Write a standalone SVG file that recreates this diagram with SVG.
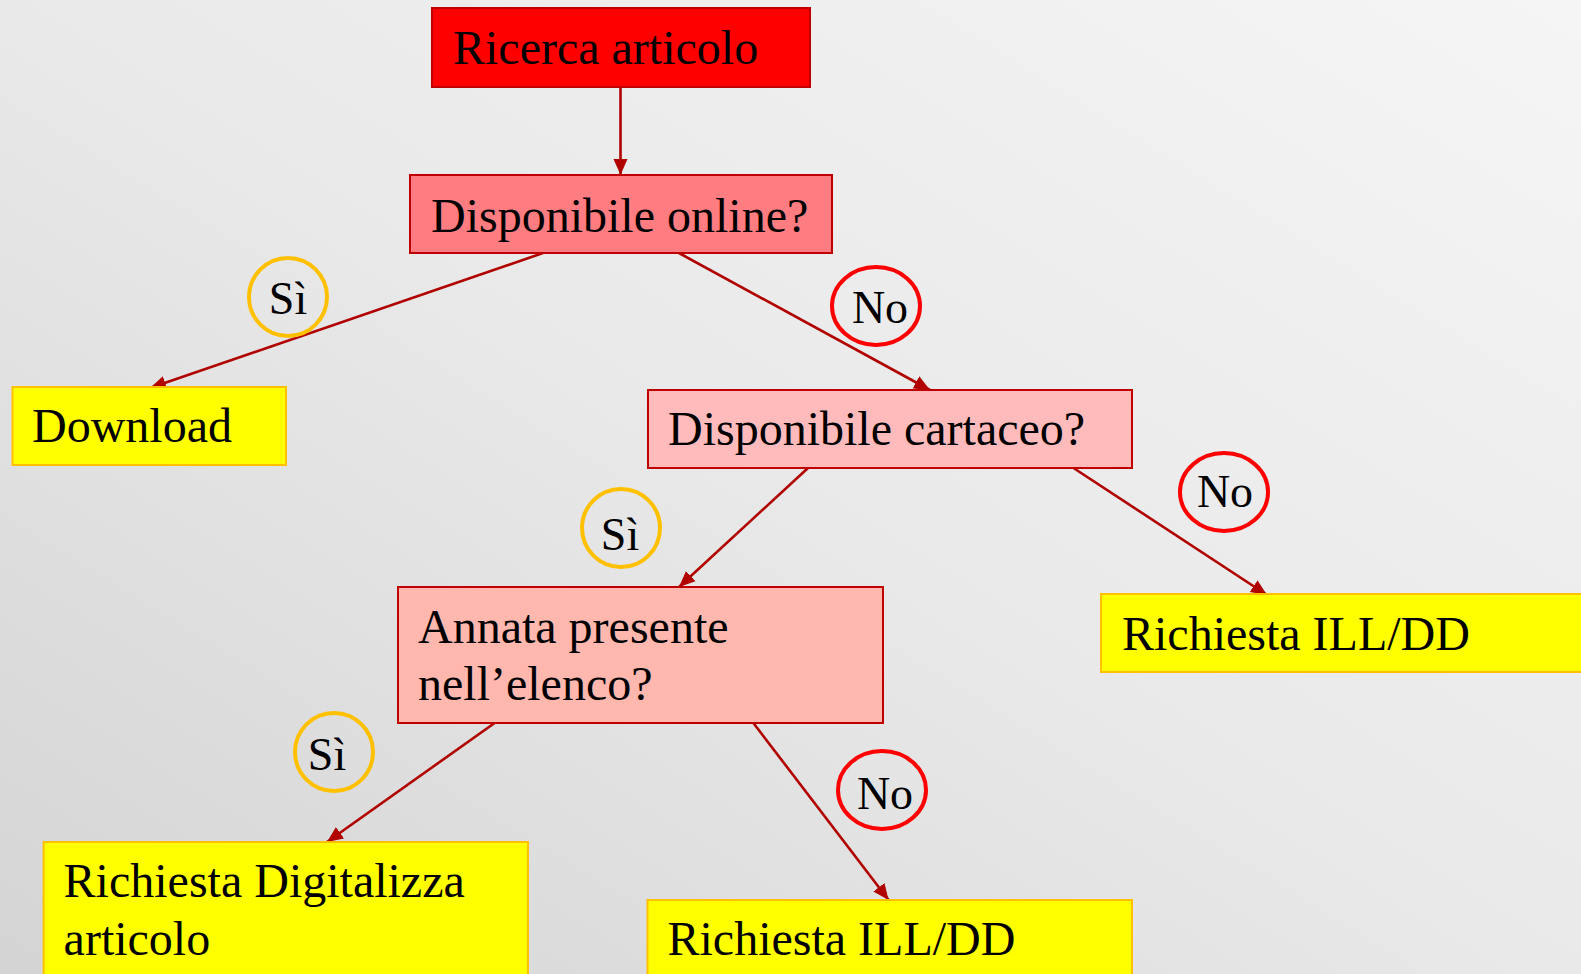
<svg xmlns="http://www.w3.org/2000/svg" width="1581" height="974" viewBox="0 0 1581 974">
<defs>
<linearGradient id="bg" x1="1" y1="0" x2="0" y2="1">
<stop offset="0" stop-color="#f5f5f5"/>
<stop offset="0.5" stop-color="#e9e9e9"/>
<stop offset="1" stop-color="#d4d4d4"/>
</linearGradient>
<marker id="ah" markerUnits="userSpaceOnUse" markerWidth="16" markerHeight="16" viewBox="0 0 16 16" refX="16" refY="8" orient="auto">
<path d="M0,1 L16,8 L0,15 Z" fill="#b00000"/>
</marker>
<style>
.box{stroke-width:2}
.red{fill:#ff0000;stroke:#c00000}
.pink1{fill:#ff7c80;stroke:#c00000}
.pink2{fill:#ffbbbb;stroke:#c00000}
.pink3{fill:#ffb7ae;stroke:#c00000}
.yel{fill:#ffff00;stroke:#ffc000}
.t{font-family:"Liberation Serif","Times New Roman",serif;font-size:48px;fill:#000}
.lt{font-family:"Liberation Serif","Times New Roman",serif;font-size:46px;fill:#000;text-anchor:middle}
.si{fill:none;stroke:#ffc000;stroke-width:4}
.no{fill:none;stroke:#ff0000;stroke-width:4}
.c{stroke:#b00000;stroke-width:2.6;fill:none;marker-end:url(#ah)}
</style>
</defs>
<rect x="0" y="0" width="1581" height="974" fill="url(#bg)"/>
<g id="connectors">
<line class="c" x1="620.5" y1="87" x2="620.5" y2="175"/>
<line class="c" x1="543" y1="253" x2="150" y2="388"/>
<line class="c" x1="679" y1="253" x2="930" y2="390"/>
<line class="c" x1="808" y1="468" x2="679" y2="587"/>
<line class="c" x1="1072" y1="467" x2="1267" y2="595"/>
<line class="c" x1="496" y1="722" x2="327" y2="842"/>
<line class="c" x1="752.6" y1="722" x2="888.6" y2="900"/>
</g>
<g id="n-ricerca"><rect class="box red" x="432" y="8" width="378" height="79"/><text class="t" x="453" y="64">Ricerca articolo</text></g>
<g id="n-online"><rect class="box pink1" x="410" y="175" width="422" height="78"/><text class="t" x="431" y="232">Disponibile online?</text></g>
<g id="n-download"><rect class="box yel" x="12.5" y="387" width="273.5" height="78"/><text class="t" x="32" y="442">Download</text></g>
<g id="n-cartaceo"><rect class="box pink2" x="648" y="390" width="484" height="78"/><text class="t" x="668" y="445">Disponibile cartaceo?</text></g>
<g id="n-ill1"><rect class="box yel" x="1101" y="594" width="500" height="78"/><text class="t" x="1122" y="650">Richiesta ILL/DD</text></g>
<g id="n-annata"><rect class="box pink3" x="398" y="587" width="485" height="136"/><text class="t" x="418" y="643">Annata presente</text><text class="t" x="418" y="700">nell’elenco?</text></g>
<g id="n-digit"><rect class="box yel" x="43.6" y="842" width="484.4" height="150"/><text class="t" x="63.6" y="897">Richiesta Digitalizza</text><text class="t" x="63.6" y="955">articolo</text></g>
<g id="n-ill2"><rect class="box yel" x="647.5" y="900" width="484.5" height="90"/><text class="t" x="667.5" y="955">Richiesta ILL/DD</text></g>
<g id="l-si1"><circle class="si" cx="288" cy="297" r="39"/><text class="lt" x="288" y="314">Sì</text></g>
<g id="l-no1"><ellipse class="no" cx="876" cy="306" rx="44" ry="39"/><text class="lt" x="880" y="323">No</text></g>
<g id="l-si2"><circle class="si" cx="621" cy="528" r="39"/><text class="lt" x="620" y="550">Sì</text></g>
<g id="l-no2"><ellipse class="no" cx="1224" cy="492" rx="44" ry="39"/><text class="lt" x="1225" y="507">No</text></g>
<g id="l-si3"><circle class="si" cx="334" cy="752" r="39"/><text class="lt" x="327" y="770">Sì</text></g>
<g id="l-no3"><ellipse class="no" cx="882" cy="790" rx="44" ry="39"/><text class="lt" x="885" y="809">No</text></g>
</svg>
